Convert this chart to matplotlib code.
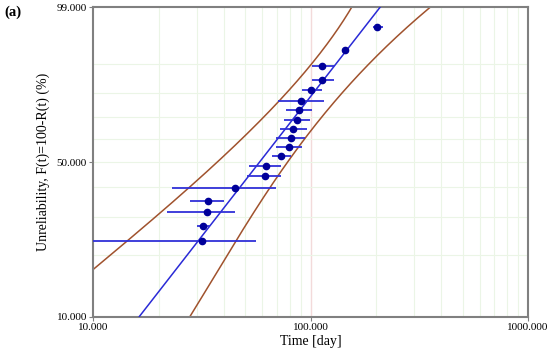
import numpy as np
import matplotlib
matplotlib.use("Agg")
import matplotlib.pyplot as plt
from matplotlib.ticker import FixedLocator, NullFormatter, FixedFormatter

plt.rcParams['font.family'] = ['Liberation Serif', 'DejaVu Serif']

# ---- data ----
# data points: time [day], unreliability (%)
pt_time = [202.1, 144.1, 113.3, 113.3, 100.9, 90.2, 88.5, 86.7, 83.4, 81.4,
           79.4, 73.4, 62.1, 61.8, 45.1, 33.9, 33.4, 32.0, 31.7]
pt_F = [97.3, 93.4, 89.3, 85.1, 81.1, 77.1, 73.3, 68.9, 64.8, 60.8,
        56.7, 52.8, 48.5, 44.4, 39.7, 35.1, 31.4, 27.2, 23.2]
# horizontal interval bounds of each point
pt_lo = [193.2, 144.1, 101.9, 101.9, 91.1, 70.7, 77.2, 75.8, 72.4, 69.4,
         69.4, 66.5, 52.2, 51.2, 23.0, 27.9, 21.9, 30.0, 10.0]
pt_hi = [216.1, 144.1, 127.9, 127.9, 112.6, 115.7, 101.3, 99.2, 96.0, 94.3,
         91.1, 81.1, 73.2, 73.2, 69.2, 40.0, 45.1, 34.5, 56.2]

# fitted Weibull line endpoints
fit_time = [16.3, 208.7]
fit_F = [10.0, 99.0]

# confidence bounds
upper_time = [10.03, 14.5, 19.6, 27.4, 37.0, 45.8, 56.6, 69.9, 86.4, 101.3, 122.9, 154.6]
upper_F = [17.1, 23.3, 31.0, 39.6, 49.5, 57.5, 66.4, 77.3, 84.3, 90.0, 95.4, 99.0]
lower_time = [27.9, 45.0, 65.2, 72.4, 97.7, 122.9, 146.7, 208.7, 354.3]
lower_F = [10.0, 23.3, 39.6, 45.4, 62.7, 74.5, 82.5, 92.7, 99.0]

x_ticks = [10, 100, 1000]
x_ticklabels = ["10.000", "100.000", "1000.000"]
y_ticks = [10, 50, 99]
y_ticklabels = ["10.000", "50.000", "99.000"]
y_grid = [20, 30, 40, 50, 60, 70, 80, 90]


def fwd(F):
    F = np.clip(np.asarray(F, dtype=float), 1e-6, 99.9999)
    return np.log(-np.log(1 - F / 100.0))


def inv(w):
    w = np.asarray(w, dtype=float)
    return 100.0 * (1 - np.exp(-np.exp(w)))


def smooth_curve(times, F, n=200):
    # smooth rendering of the read points in the plot's own (log t, Weibull) space
    lt = np.log10(times)
    w = fwd(F)
    c = np.polyfit(w, lt, 3)
    ww = np.linspace(w[0], w[-1], n)
    return 10 ** np.polyval(c, ww), inv(ww)


fig = plt.figure(figsize=(5.5, 3.5), dpi=100)
ax = fig.add_axes([0.1695, 0.0957, 0.7905, 0.8836])
ax.set_xscale('log')
ax.set_yscale('function', functions=(fwd, inv))
ax.set_xlim(10, 1000)
ax.set_ylim(10, 99)

# grid
minor_x = [m * d for d in (10, 100) for m in range(2, 10)]
for xv in minor_x:
    ax.axvline(xv, color='#ebf5e6', lw=0.8, zorder=0)
ax.axvline(100, color='#f3dada', lw=1.0, zorder=0)
for yv in y_grid:
    ax.axhline(yv, color='#ebf5e6', lw=0.8, zorder=0)

# bounds
ut, uf = smooth_curve(upper_time, upper_F)
lt_, lf = smooth_curve(lower_time, lower_F)
ax.plot(ut, uf, color='#a0522d', lw=1.1, zorder=2)
ax.plot(lt_, lf, color='#a0522d', lw=1.1, zorder=2)
# fit line
ax.plot(fit_time, fit_F, color='#2a2ad6', lw=1.1, zorder=3)

# points with horizontal intervals
t = np.array(pt_time)
xerr = np.vstack([t - np.array(pt_lo), np.array(pt_hi) - t])
ax.errorbar(pt_time, pt_F, xerr=xerr, fmt='o', color='#00009a', ms=4.5,
            ecolor='#3030d8', elinewidth=1.3, capsize=0, zorder=4)

# ticks
ax.xaxis.set_major_locator(FixedLocator(x_ticks))
ax.xaxis.set_major_formatter(FixedFormatter(x_ticklabels))
ax.xaxis.set_minor_locator(FixedLocator([]))
ax.xaxis.set_minor_formatter(NullFormatter())
ax.yaxis.set_major_locator(FixedLocator(y_ticks))
ax.yaxis.set_major_formatter(FixedFormatter(y_ticklabels))
ax.yaxis.set_minor_locator(FixedLocator([]))
ax.yaxis.set_minor_formatter(NullFormatter())
ax.tick_params(axis='both', labelsize=8, length=3, width=0.8, color='#808080', pad=1.5)

for s in ax.spines.values():
    s.set_color('#808080')
    s.set_linewidth(1.5)

ax.set_xlabel('Time [day]', fontsize=10, labelpad=2)
ax.set_ylabel('Unreliability, F(t)=100-R(t) (%)', fontsize=10, labelpad=5)
fig.text(0.008, 0.985, '(a)', fontsize=10.5, fontweight='bold', va='top', ha='left')

fig.savefig('out.png', dpi=100)
